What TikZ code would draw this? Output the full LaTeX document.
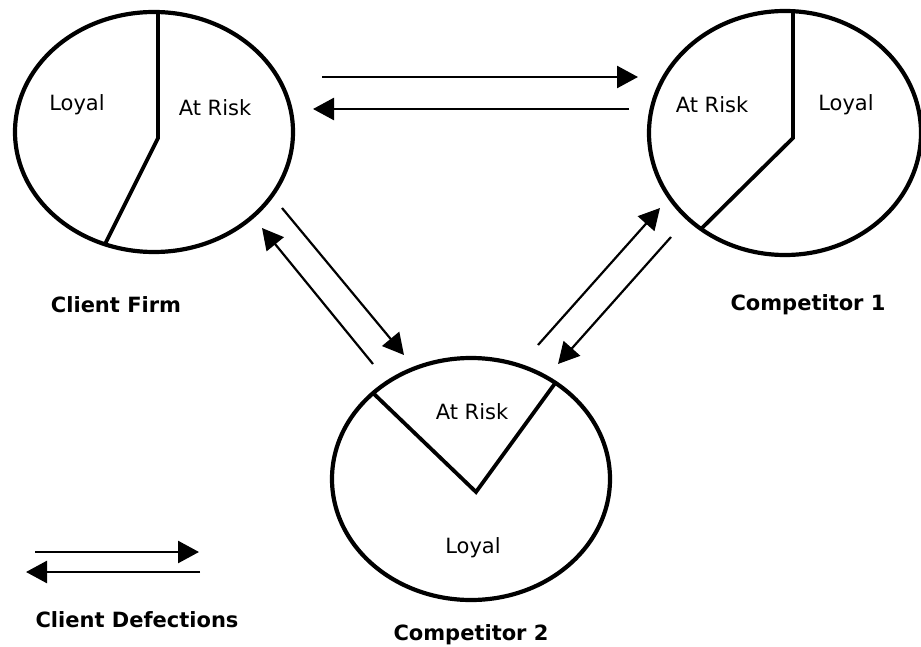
\documentclass[tikz,border=0pt]{standalone}
\usepackage{fontspec}
\setmainfont{DejaVu Sans}
\usetikzlibrary{shapes.geometric,arrows.meta,positioning}

\begin{document}
\begin{tikzpicture}[x=1pt, y=-1pt,
    pie/.style={draw, ellipse, line width=4.2pt, inner sep=0pt},
    slice/.style={line width=3.8pt, line join=miter},
    part/.style={font=\fontsize{21}{25}\selectfont},
    title/.style={font=\fontsize{21}{25}\selectfont\bfseries},
    flow/.style={-{Triangle[length=21pt,width=22pt]}, line width=2.6pt},
    cross/.style={-{Triangle[length=21pt,width=22pt]}, line width=2.2pt}]
    \useasboundingbox (0,0) rectangle (921,647);

    % the three firms
    \node[pie, minimum width=278pt, minimum height=240pt] (client) at (154,132) {};
    \node[pie, minimum width=272pt, minimum height=244pt] (comp1) at (785,133) {};
    \node[pie, minimum width=278pt, minimum height=242pt] (comp2) at (471,479) {};

    % loyal / at risk splits
    \draw[slice] (158,12) -- (158,138) -- (105,244);
    \draw[slice] (793,11) -- (793,138) -- (701,229);
    \draw[slice] (373,393) -- (476,492) -- (556,382);

    \node[part] (clientLoyal) at (77,105) {Loyal};
    \node[part] (clientRisk) at (215,108) {At Risk};
    \node[part] (compaRisk) at (712,105) {At Risk};
    \node[part] (compaLoyal) at (846,105) {Loyal};
    \node[part] (compbRisk) at (472,412) {At Risk};
    \node[part] (compbLoyal) at (473,548) {Loyal};

    \node[title] (clientName) at (116,305) {Client Firm};
    \node[title] (compaName) at (808,305) {Competitor 1};
    \node[title] (compbName) at (471,635) {Competitor 2};

    % defection arrows
    \coordinate (ab1) at (322,77);  \coordinate (ab2) at (638,77);
    \coordinate (ba1) at (629,109); \coordinate (ba2) at (313,109);
    \coordinate (ac1) at (282,208); \coordinate (ac2) at (404,355);
    \coordinate (ca1) at (373,364); \coordinate (ca2) at (262,228);
    \coordinate (cb1) at (538,345); \coordinate (cb2) at (660,208);
    \coordinate (bc1) at (671,237); \coordinate (bc2) at (558,364);

    \draw[flow] (ab1) -- (ab2);
    \draw[flow] (ba1) -- (ba2);
    \draw[cross] (ac1) -- (ac2);
    \draw[cross] (ca1) -- (ca2);
    \draw[cross] (cb1) -- (cb2);
    \draw[cross] (bc1) -- (bc2);

    % legend
    \coordinate (key1) at (35,552);  \coordinate (key2) at (199,552);
    \coordinate (key3) at (200,572); \coordinate (key4) at (26,572);
    \draw[flow] (key1) -- (key2);
    \draw[flow] (key3) -- (key4);
    \node[title] (keyName) at (137,620) {Client Defections};
\end{tikzpicture}
\end{document}
